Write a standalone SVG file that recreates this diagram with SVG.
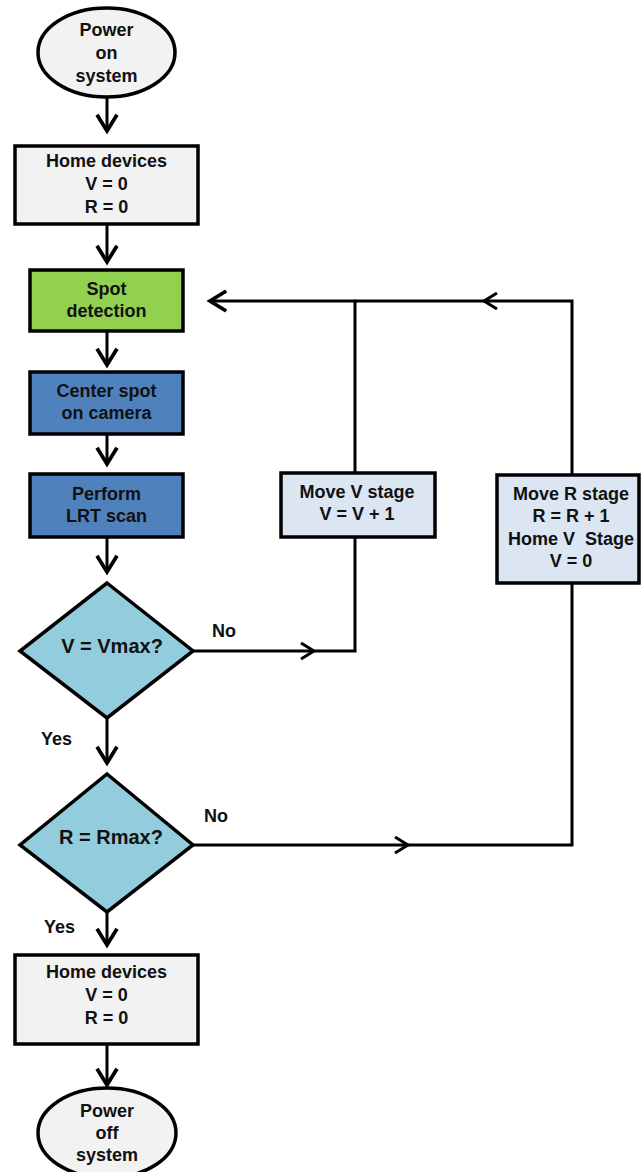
<svg xmlns="http://www.w3.org/2000/svg" width="641" height="1172" viewBox="0 0 641 1172">
<defs>
<marker id="ah" markerUnits="userSpaceOnUse" markerWidth="30" markerHeight="30" viewBox="-16 -12 20 24" refX="0" refY="0" orient="auto">
<path d="M-13,-8 L0,0 L-13,8" fill="none" stroke="#000" stroke-width="3"/>
</marker>
</defs>
<style>
text{font-family:"Liberation Sans",Arial,sans-serif;font-weight:bold;font-size:18px;fill:#111;text-anchor:middle}
.lbl{text-anchor:start;font-size:18px}
.dt{font-size:20px}
.sh{stroke:#000;stroke-width:3.5}
.con{fill:none;stroke:#000;stroke-width:3}
.gray{fill:#f2f2f2}
.green{fill:#92d050}
.blue{fill:#4f81bd}
.lb{fill:#dce6f2}
.dia{fill:#93cddd}
</style>
<rect width="641" height="1172" fill="#fff"/>
<g id="connectors">
<path class="con" d="M107,97 V131" marker-end="url(#ah)"/>
<path class="con" d="M107,224 V262" marker-end="url(#ah)"/>
<path class="con" d="M107,331 V365" marker-end="url(#ah)"/>
<path class="con" d="M107,434 V464" marker-end="url(#ah)"/>
<path class="con" d="M107,537 V572" marker-end="url(#ah)"/>
<path class="con" d="M107,718 V763" marker-end="url(#ah)"/>
<path class="con" d="M107,912 V945" marker-end="url(#ah)"/>
<path class="con" d="M107,1044 V1085" marker-end="url(#ah)"/>
<path class="con" d="M193,651 H355 V537"/>
<path class="con" d="M301,643 L314,651 L301,659"/>
<path class="con" d="M355,473 V301 H210" marker-end="url(#ah)"/>
<path class="con" d="M193,845 H572 V583"/>
<path class="con" d="M395,837 L408,845 L395,853"/>
<path class="con" d="M572,475 V301 H355"/>
<path class="con" d="M497,293 L484,301 L497,309"/>
</g>
<g id="start">
<ellipse class="sh gray" cx="106.5" cy="52.5" rx="68.5" ry="44.5"/>
<text x="106.5" y="36">Power</text>
<text x="106.5" y="59">on</text>
<text x="106.5" y="82">system</text>
</g>
<g id="home1">
<rect class="sh gray" x="15" y="146" width="183" height="78"/>
<text x="106.5" y="167">Home devices</text>
<text x="106.5" y="190">V = 0</text>
<text x="106.5" y="213">R = 0</text>
</g>
<g id="spot">
<rect class="sh green" x="30" y="270" width="153" height="61"/>
<text x="106.5" y="295">Spot</text>
<text x="106.5" y="317">detection</text>
</g>
<g id="center">
<rect class="sh blue" x="30" y="372" width="153" height="62"/>
<text x="106.5" y="397">Center spot</text>
<text x="106.5" y="419">on camera</text>
</g>
<g id="lrt">
<rect class="sh blue" x="30" y="474" width="153" height="63"/>
<text x="106.5" y="500">Perform</text>
<text x="106.5" y="522">LRT scan</text>
</g>
<g id="vmax">
<polygon class="sh dia" points="107,583 193,651 107,718 20,651"/>
<text class="dt" x="112" y="653">V = Vmax?</text>
<text class="lbl" x="212" y="637">No</text>
<text class="lbl" x="41" y="745">Yes</text>
</g>
<g id="rmax">
<polygon class="sh dia" points="107,774 193,845 107,912 20,845"/>
<text class="dt" x="111" y="844">R = Rmax?</text>
<text class="lbl" x="204" y="822">No</text>
<text class="lbl" x="44" y="933">Yes</text>
</g>
<g id="movev">
<rect class="sh lb" x="281" y="473" width="154" height="64"/>
<text x="357" y="498">Move V stage</text>
<text x="357" y="520">V = V + 1</text>
</g>
<g id="mover">
<rect class="sh lb" x="497" y="475" width="142" height="108"/>
<text x="571" y="500">Move R stage</text>
<text x="571" y="522">R = R + 1</text>
<text x="571" y="545" xml:space="preserve">Home V  Stage</text>
<text x="571" y="567">V = 0</text>
</g>
<g id="home2">
<rect class="sh gray" x="15" y="955" width="183" height="89"/>
<text x="106.5" y="978">Home devices</text>
<text x="106.5" y="1001">V = 0</text>
<text x="106.5" y="1024">R = 0</text>
</g>
<g id="end">
<ellipse class="sh gray" cx="107" cy="1133" rx="69" ry="45"/>
<text x="107" y="1117">Power</text>
<text x="107" y="1139">off</text>
<text x="107" y="1161">system</text>
</g>
</svg>
